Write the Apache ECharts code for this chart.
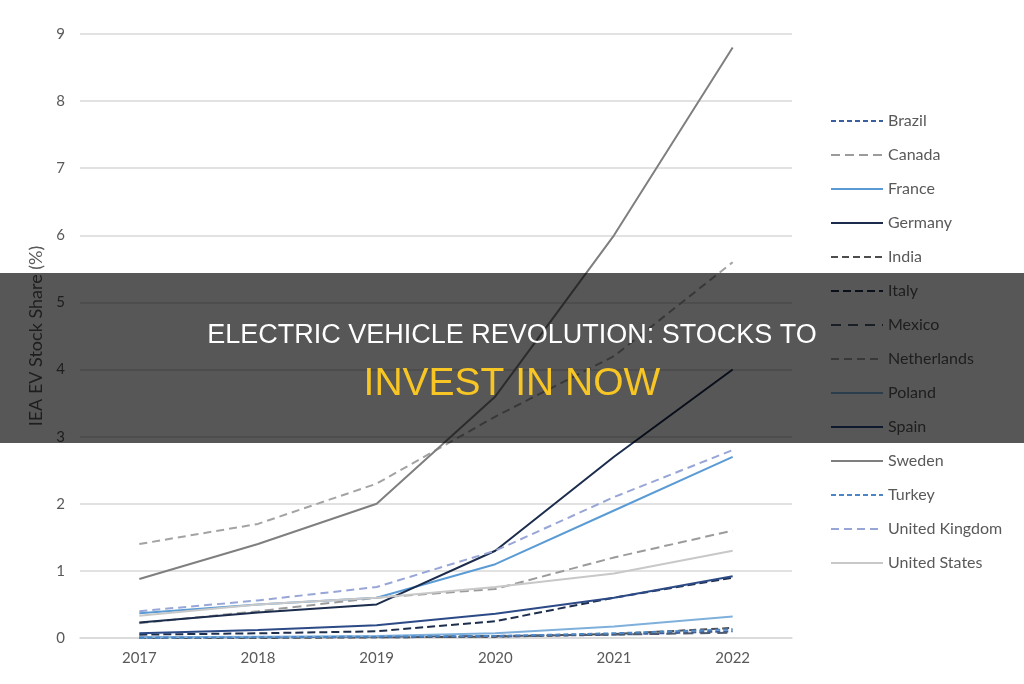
<!DOCTYPE html>
<html>
<head>
<meta charset="utf-8">
<title>EV stock share</title>
<script src="https://cdn.jsdelivr.net/npm/echarts@6/dist/echarts.min.js"></script>
<style>
  html, body { margin: 0; padding: 0; background: #fff; }
  #chart { width: 1024px; height: 684px; }
</style>
</head>
<body>
<div id="chart"></div>
<script>
// years on the x axis
var years = ['2017', '2018', '2019', '2020', '2021', '2022'];

// IEA EV stock share (%) per country
var brazil      = [0.01, 0.01, 0.01, 0.02, 0.05, 0.10];
var canada      = [0.22, 0.40, 0.60, 0.73, 1.20, 1.60];
var france      = [0.37, 0.50, 0.60, 1.10, 1.90, 2.70];
var germany     = [0.23, 0.38, 0.50, 1.30, 2.70, 4.00];
var india       = [0.00, 0.00, 0.01, 0.02, 0.06, 0.15];
var italy       = [0.05, 0.07, 0.10, 0.25, 0.60, 0.90];
var mexico      = [0.01, 0.01, 0.02, 0.03, 0.05, 0.08];
var netherlands = [1.40, 1.70, 2.30, 3.30, 4.20, 5.60];
var poland      = [0.01, 0.02, 0.03, 0.07, 0.17, 0.32];
var spain       = [0.07, 0.12, 0.19, 0.36, 0.60, 0.92];
var sweden      = [0.88, 1.40, 2.00, 3.60, 6.00, 8.80];
var turkey      = [0.00, 0.01, 0.02, 0.03, 0.07, 0.13];
var uk          = [0.40, 0.56, 0.76, 1.30, 2.10, 2.80];
var us          = [0.33, 0.50, 0.60, 0.76, 0.96, 1.30];

var yTicks = [0, 9, 1]; // min, max, interval

var titleLine1 = 'ELECTRIC VEHICLE REVOLUTION: STOCKS TO';
var titleLine2 = 'INVEST IN NOW';

function line(name, data, color, dash) {
  return {
    name: name,
    type: 'line',
    data: data,
    symbol: 'none',
    smooth: false,
    lineStyle: { color: color, width: 2, type: dash || 'solid' },
    itemStyle: { color: color }
  };
}

var series = [
  line('Brazil', brazil, '#3b5f9e', [5, 3]),
  line('Canada', canada, '#9b9b9b', [9, 5]),
  line('France', france, '#5b9bd5'),
  line('Germany', germany, '#1b2c4c'),
  line('India', india, '#4d4d4d', [7, 4]),
  line('Italy', italy, '#1e2f4d', [8, 4]),
  line('Mexico', mexico, '#4c5a72', [10, 7]),
  line('Netherlands', netherlands, '#a3a3a3', [8, 5]),
  line('Poland', poland, '#7fb0dc'),
  line('Spain', spain, '#2c4a86'),
  line('Sweden', sweden, '#7f7f7f'),
  line('Turkey', turkey, '#4a86c5', [5, 3]),
  line('United Kingdom', uk, '#97a6d6', [8, 5]),
  line('United States', us, '#c8c8c8')
];

var option = {
  animation: false,
  backgroundColor: '#ffffff',
  grid: { left: 80, right: 232, top: 34, bottom: 46 },
  legend: {
    orient: 'vertical',
    left: 825,
    top: 108,
    itemWidth: 52,
    itemHeight: 14,
    itemGap: 18,
    itemStyle: { opacity: 0 },
    textStyle: { fontFamily: 'Lato', fontSize: 16, color: '#595959' },
    data: series.map(function (s) { return s.name; })
  },
  xAxis: {
    type: 'category',
    data: years,
    boundaryGap: true,
    axisLine: { show: true, lineStyle: { color: '#d9d9d9', width: 1.5 } },
    axisTick: { show: false },
    axisLabel: { fontFamily: 'Lato', fontSize: 15, color: '#595959', margin: 13 }
  },
  yAxis: {
    type: 'value',
    min: yTicks[0],
    max: yTicks[1],
    interval: yTicks[2],
    name: 'IEA EV Stock Share (%)',
    nameLocation: 'middle',
    nameGap: 34,
    nameTextStyle: { fontFamily: 'Lato', fontSize: 18, color: '#595959' },
    axisLine: { show: false },
    axisTick: { show: false },
    axisLabel: { fontFamily: 'Lato', fontSize: 15, color: '#595959', margin: 15 },
    splitLine: { lineStyle: { color: '#d9d9d9', width: 1.5 } }
  },
  graphic: [
    {
      type: 'rect',
      z: 100,
      shape: { x: 0, y: 273, width: 1024, height: 170 },
      style: { fill: 'rgba(0,0,0,0.66)' }
    },
    {
      type: 'text',
      z: 101,
      x: 512,
      y: 336,
      style: {
        text: titleLine1,
        fill: '#ffffff',
        fontFamily: 'Liberation Sans',
        fontSize: 27,
        align: 'center',
        verticalAlign: 'middle'
      }
    },
    {
      type: 'text',
      z: 101,
      x: 512,
      y: 384,
      style: {
        text: titleLine2,
        fill: '#f7c624',
        fontFamily: 'Liberation Sans',
        fontSize: 39,
        align: 'center',
        verticalAlign: 'middle'
      }
    }
  ],
  series: series
};

var chart = echarts.init(document.getElementById('chart'));
chart.setOption(option);
</script>
</body>
</html>
